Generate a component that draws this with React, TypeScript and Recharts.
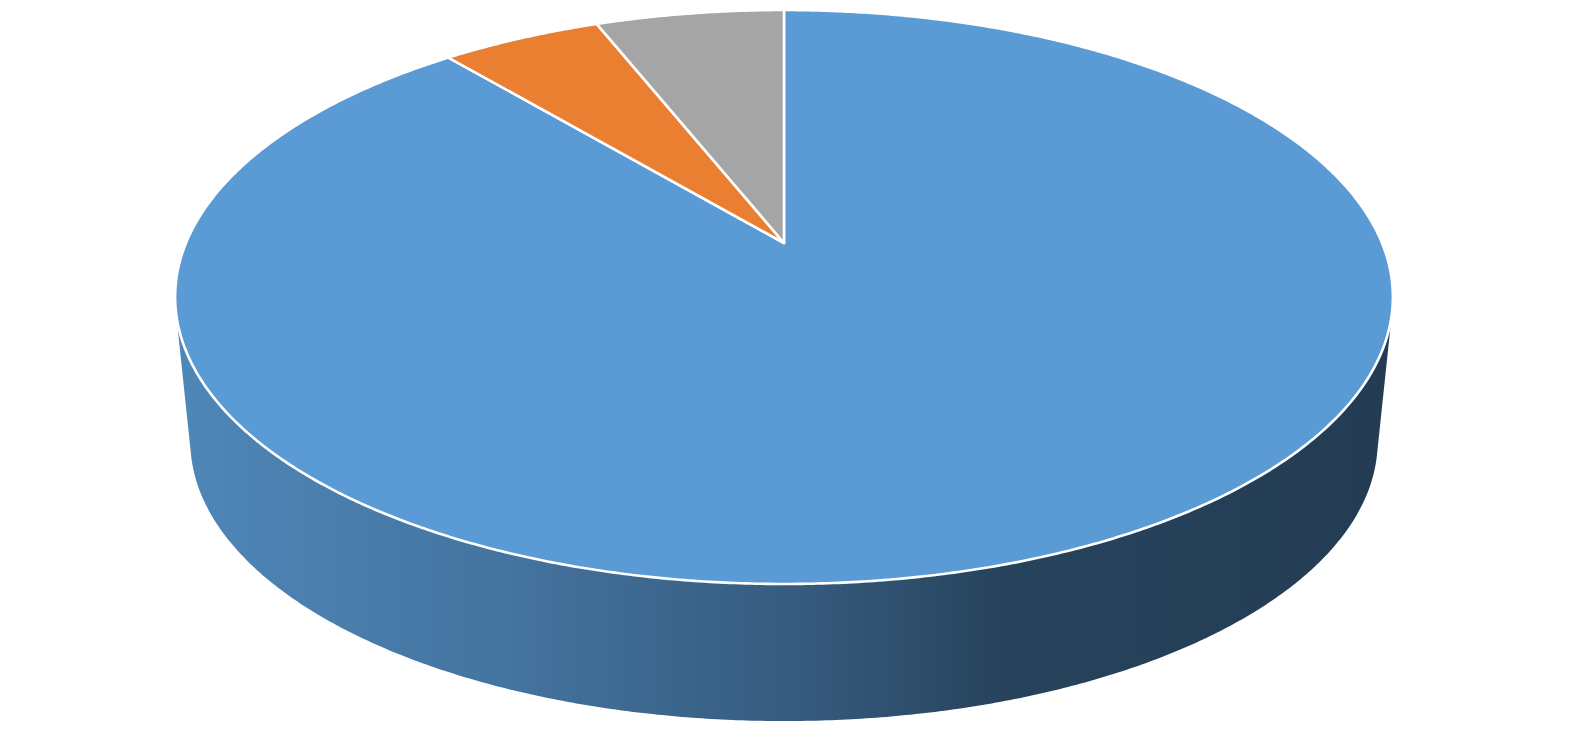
import React from 'react'
import { PieChart, Pie } from 'recharts'

// slice values, clockwise from 12 o'clock
const categories = ['Category 1', 'Category 2', 'Category 3']
const values = [88.9, 5.1, 6.0]
const colors = ['#5b9bd5', '#ea7e31', '#a5a5a5']

const data = categories.map((name, i) => ({ name, value: values[i] }))

// 3D look: tilt of the disc, perspective and thickness of the pie
const TILT = 0.4629
const PERSP = -0.1882
const DEPTH = 145.6
const BASE = 0.975

const RAD = Math.PI / 180

function project(cx: number, cy: number, r: number, deg: number, bottom: boolean) {
  const u = Math.cos(deg * RAD)
  const v = -Math.sin(deg * RAD)
  const w = 1 + PERSP * v
  const s = bottom ? BASE : 1
  return [cx + (s * r * u) / w, cy + (bottom ? DEPTH : 0) + (s * r * TILT * v) / w]
}

function arc(p: any, bottom: boolean) {
  const { cx, cy, outerRadius, startAngle, endAngle } = p
  const steps = Math.max(8, Math.ceil(Math.abs(endAngle - startAngle) / 0.4))
  const pts: number[][] = []
  for (let i = 0; i <= steps; i++) {
    const a = startAngle + ((endAngle - startAngle) * i) / steps
    pts.push(project(cx, cy, outerRadius, a, bottom))
  }
  return pts
}

function hull(points: number[][]) {
  const pts = [...points].sort((a, b) => a[0] - b[0] || a[1] - b[1])
  const cross = (o: number[], a: number[], b: number[]) =>
    (a[0] - o[0]) * (b[1] - o[1]) - (a[1] - o[1]) * (b[0] - o[0])
  const lower: number[][] = []
  for (const p of pts) {
    while (lower.length >= 2 && cross(lower[lower.length - 2], lower[lower.length - 1], p) <= 0) lower.pop()
    lower.push(p)
  }
  const upper: number[][] = []
  for (let i = pts.length - 1; i >= 0; i--) {
    const p = pts[i]
    while (upper.length >= 2 && cross(upper[upper.length - 2], upper[upper.length - 1], p) <= 0) upper.pop()
    upper.push(p)
  }
  return lower.slice(0, -1).concat(upper.slice(0, -1))
}

function shade(hex: string, f: number) {
  const n = parseInt(hex.slice(1), 16)
  const c = [(n >> 16) & 255, (n >> 8) & 255, n & 255].map(x => Math.round(x * f))
  return `rgb(${c[0]},${c[1]},${c[2]})`
}

// side wall darkens from left to right
const sideStops = [
  [0, 0.87],
  [0.27, 0.75],
  [0.51, 0.59],
  [0.68, 0.43],
  [1, 0.39],
]

const toPath = (pts: number[][]) =>
  'M' + pts.map(p => `${p[0].toFixed(2)},${p[1].toFixed(2)}`).join('L') + 'Z'

const SideWall = (p: any) => {
  const pts = hull(arc(p, false).concat(arc(p, true)))
  const id = `side-${String(p.fill).replace(/[^a-z0-9]/gi, '')}`
  const r = p.outerRadius * 1.02
  return (
    <g>
      <defs>
        <linearGradient id={id} gradientUnits="userSpaceOnUse" x1={p.cx - r} y1={0} x2={p.cx + r} y2={0}>
          {sideStops.map(([o, f]) => (
            <stop key={o} offset={o} stopColor={shade(p.fill, f)} />
          ))}
        </linearGradient>
      </defs>
      <path d={toPath(pts)} fill={`url(#${id})`} stroke="none" />
    </g>
  )
}

const TopFace = (p: any) => {
  const pts = [[p.cx, p.cy], ...arc(p, false)]
  return (
    <path d={toPath(pts)} fill={p.fill} stroke="#ffffff" strokeWidth={2.6} strokeLinejoin="round" />
  )
}

export default function App() {
  const cells = data.map((d, i) => ({ ...d, fill: colors[i] }))
  return (
    <div style={{ position: 'absolute', left: 0, top: 0, width: 1579, height: 744, background: '#fff' }}>
      <PieChart width={1579} height={744} margin={{ top: 0, right: 0, bottom: 0, left: 0 }}>
        {/* side walls first so the top faces cover them */}
        <Pie
          data={cells}
          dataKey="value"
          nameKey="name"
          cx={784}
          cy={243}
          outerRadius={598}
          startAngle={90}
          endAngle={-270}
          isAnimationActive={false}
          shape={SideWall}
          inactiveShape={SideWall}
          activeShape={SideWall}
        />
        <Pie
          data={cells}
          dataKey="value"
          nameKey="name"
          cx={784}
          cy={243}
          outerRadius={598}
          startAngle={90}
          endAngle={-270}
          isAnimationActive={false}
          shape={TopFace}
          inactiveShape={TopFace}
          activeShape={TopFace}
        />
      </PieChart>
    </div>
  )
}
